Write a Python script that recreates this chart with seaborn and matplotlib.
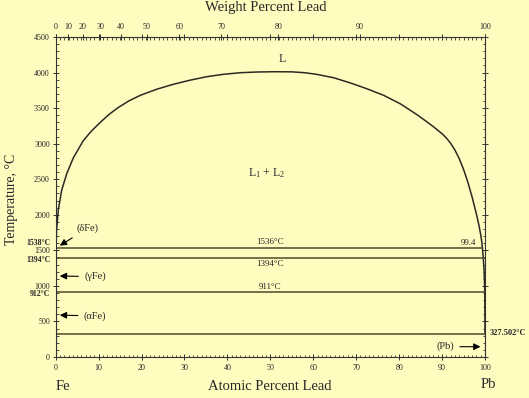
import numpy as np
import matplotlib
matplotlib.use("Agg")
import matplotlib.pyplot as plt
import seaborn as sns
from matplotlib.ticker import MultipleLocator

# L1 + L2 miscibility gap (atomic % Pb, temperature in C)
gap_at = [0.0, 0.1, 0.2, 0.6, 1.4, 2.6, 4.1, 6.4, 8.2, 10.3, 12.4, 14.6, 17.0, 19.7,
          23.5, 27.4, 31.3, 35.2, 39.0, 43.0, 47.0, 51.0, 55.0, 58.0, 60.8, 64.7,
          68.6, 72.5, 76.4, 80.3, 84.1, 86.0, 88.0, 90.0, 91.0, 92.0, 93.0, 94.0,
          95.0, 96.0, 97.0, 98.0, 98.6, 99.0, 99.25, 99.4]
gap_T = [1538, 1600, 1786, 2067, 2348, 2583, 2800, 3040, 3170, 3295, 3410, 3510, 3600, 3680,
         3765, 3835, 3893, 3942, 3975, 3998, 4008, 4012, 4010, 3998, 3975, 3928,
         3855, 3772, 3680, 3560, 3410, 3328, 3238, 3140, 3080, 3005, 2910, 2790,
         2640, 2460, 2250, 2010, 1850, 1720, 1620, 1536]

# Pb-rich liquidus below the monotectic
liq_at = [99.4, 99.6, 99.8, 99.95, 100.0]
liq_T = [1536, 1394, 1200, 900, 327.502]

# invariant lines
inv_T = [1536, 1394, 911, 327.502]
inv_end = [99.4, 100, 100, 100]
inv_labels = ['1536°C', '1394°C', '911°C']

# solid solutions drawn on the edges
fe_T = [0, 1538]
pb_T = [0, 327.502]

wt_ticks = [0, 10, 20, 30, 40, 50, 60, 70, 80, 90, 100]
M_FE, M_PB = 55.845, 207.2


def at_to_wt(a):
    a = np.asarray(a, float)
    with np.errstate(divide='ignore', invalid='ignore'):
        return 100 * a * M_PB / (a * M_PB + (100 - a) * M_FE)


def wt_to_at(w):
    w = np.asarray(w, float)
    with np.errstate(divide='ignore', invalid='ignore'):
        return 100 * (w / M_PB) / (w / M_PB + (100 - w) / M_FE)


sns.set_theme(style="ticks")
plt.rcParams['font.family'] = ['Liberation Serif', 'DejaVu Serif']
plt.rcParams['mathtext.default'] = 'regular'

bg = '#fffcc0'
fig = plt.figure(figsize=(5.29, 3.98), dpi=100, facecolor=bg)
ax = fig.add_axes([0.1053, 0.103, 0.8115, 0.804])
ax.set_facecolor(bg)

curve_col = '#2b2a22'
line_col = '#4f4a2c'

sns.lineplot(x=gap_at, y=gap_T, sort=False, estimator=None, color=curve_col, lw=1.1, ax=ax)
sns.lineplot(x=liq_at, y=liq_T, sort=False, estimator=None, color=curve_col, lw=1.1, ax=ax)
for T, x1 in zip(inv_T, inv_end):
    sns.lineplot(x=[0, x1], y=[T, T], color=line_col, lw=1.1, ax=ax)
sns.lineplot(x=[0, 0], y=fe_T, color='black', lw=2.2, ax=ax)
sns.lineplot(x=[100, 100], y=pb_T, color='black', lw=2.2, ax=ax)

ax.set_xlim(0, 100)
ax.set_ylim(0, 4500)
ax.set_xlabel('')
ax.set_ylabel('')
for s in ax.spines.values():
    s.set_visible(True)
    s.set_color('#333333')
    s.set_linewidth(0.8)

ax.xaxis.set_major_locator(MultipleLocator(10))
ax.xaxis.set_minor_locator(MultipleLocator(1))
ax.yaxis.set_major_locator(MultipleLocator(500))
ax.yaxis.set_minor_locator(MultipleLocator(100))
ax.tick_params(which='both', top=True, right=True, color='#333333')
ax.tick_params(which='major', direction='inout', length=4.5, width=0.7, labelsize=5.8, pad=2.5)
ax.tick_params(which='minor', direction='in', length=1.8, width=0.6)
ax.tick_params(axis='y', which='major', pad=2)

sec = ax.secondary_xaxis('top', functions=(at_to_wt, wt_to_at))
sec.set_xticks(wt_ticks)
sec.tick_params(direction='inout', length=5, width=0.7, labelsize=5.8, pad=2, color='#333333')
sec.spines['top'].set_visible(False)

# region labels
ax.text(52.8, 4186, 'L', ha='center', va='center', fontsize=8.5)
ax.text(49.2, 2583, 'L$_1$ + L$_2$', ha='center', va='center', fontsize=8.5)
for T, lab in zip([1621, 1308, 989], inv_labels):
    ax.text(49.9, T, lab, ha='center', va='center', fontsize=6.5)
ax.text(96.2, 1599, '99.4', ha='center', va='center', fontsize=6.5)

arrow = dict(arrowstyle='-|>', color='black', lw=0.8, mutation_scale=10)
ax.annotate('(δFe)', xy=(0.4, 1545), xytext=(7.4, 1810), ha='center', va='center',
            fontsize=7.5, arrowprops=arrow)
ax.annotate('(γFe)', xy=(0.3, 1140), xytext=(9.2, 1130), ha='center', va='center',
            fontsize=7.5, arrowprops=arrow)
ax.annotate('(αFe)', xy=(0.3, 590), xytext=(9.2, 577), ha='center', va='center',
            fontsize=7.5, arrowprops=arrow)
ax.annotate('(Pb)', xy=(99.6, 145), xytext=(90.7, 145), ha='center', va='center',
            fontsize=7.5, arrowprops=arrow)

# bold temperature marks outside the frame
ytr = ax.get_yaxis_transform()
for T, lab in zip([1610, 1360, 880], ['1538°C', '1394°C', '912°C']):
    ax.annotate(lab, xy=(0, T), xycoords=ytr, xytext=(-4, 0), textcoords='offset points',
                ha='right', va='center', fontsize=5.6, fontweight='bold')
ax.annotate('327.502°C', xy=(1, 333), xycoords=ytr, xytext=(3.5, 0), textcoords='offset points',
            ha='left', va='center', fontsize=6, fontweight='bold')

W, H = 529, 398
fig.text(266 / W, 1 - 8 / H, 'Weight Percent Lead', ha='center', va='center', fontsize=10.5)
fig.text(270 / W, 1 - 386 / H, 'Atomic Percent Lead', ha='center', va='center', fontsize=10.5)
fig.text(62.7 / W, 1 - 386 / H, 'Fe', ha='center', va='center', fontsize=10.5)
fig.text(488 / W, 1 - 385 / H, 'Pb', ha='center', va='center', fontsize=10.5)
fig.text(12 / W, 1 - 199 / H, 'Temperature, °C', ha='center', va='center', rotation=90,
         fontsize=10)

fig.savefig('out.png', dpi=100, facecolor=bg)
